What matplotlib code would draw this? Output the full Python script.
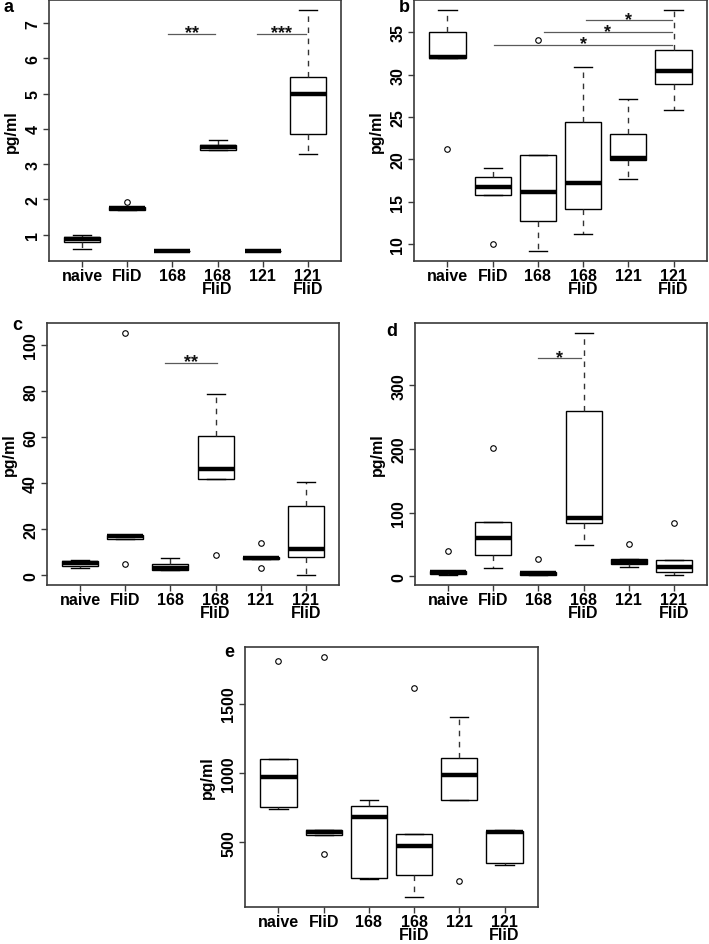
import matplotlib
matplotlib.use('Agg')
import matplotlib.pyplot as plt

plt.rcParams['font.family'] = ['Liberation Sans', 'DejaVu Sans']

categories = ['naive', 'FliD', '168', '168\nFliD', '121', '121\nFliD']

# ---- panel a ----
a_whislo = [0.59, 1.71, 0.53, 3.41, 0.53, 3.30]
a_q1 = [0.79, 1.71, 0.53, 3.41, 0.53, 3.86]
a_med = [0.88, 1.75, 0.53, 3.49, 0.53, 5.00]
a_q3 = [0.95, 1.80, 0.53, 3.55, 0.53, 5.48]
a_whishi = [1.00, 1.80, 0.53, 3.68, 0.53, 7.38]
a_fliers = [[], [1.92], [], [], [], []]
a_yticks = [1, 2, 3, 4, 5, 6, 7]
a_sig = [(2.90, 3.95, 6.69, '**'), (4.88, 5.96, 6.69, '***')]

# ---- panel b ----
b_whislo = [31.96, 15.73, 9.13, 11.22, 17.62, 25.80]
b_q1 = [31.96, 15.73, 12.69, 14.15, 19.91, 28.96]
b_med = [32.12, 16.71, 16.20, 17.19, 20.19, 30.42]
b_q3 = [35.00, 17.94, 20.55, 24.45, 22.95, 32.95]
b_whishi = [37.69, 18.97, 20.55, 30.89, 27.10, 37.69]
b_fliers = [[21.26], [10.0], [34.13], [], [], []]
b_yticks = [10, 15, 20, 25, 30, 35]
b_sig = [(4.06, 5.96, 36.42, '*'), (3.14, 5.96, 35.0, '*'), (2.04, 5.96, 33.5, '*')]

# ---- panel c ----
c_whislo = [3.2, 15.7, 2.3, 41.9, 7.0, 0.0]
c_q1 = [4.0, 15.7, 2.3, 41.9, 7.0, 8.0]
c_med = [5.2, 17.0, 3.2, 46.2, 7.4, 11.6]
c_q3 = [6.2, 17.6, 5.1, 60.2, 8.0, 30.2]
c_whishi = [6.6, 17.6, 7.7, 78.6, 8.0, 40.3]
c_fliers = [[], [105.2, 5.1], [], [8.6], [13.8, 3.3], []]
c_yticks = [0, 20, 40, 60, 80, 100]
c_sig = [(2.88, 4.03, 92.2, '**')]

# ---- panel d ----
d_whislo = [2.0, 13.0, 2.6, 49.0, 14.0, 1.6]
d_q1 = [4.0, 34.0, 2.6, 84.0, 20.0, 6.8]
d_med = [6.0, 59.5, 4.7, 92.0, 23.0, 15.3]
d_q3 = [8.0, 85.0, 6.8, 260.0, 27.4, 26.3]
d_whishi = [9.0, 85.0, 6.8, 383.0, 27.4, 26.3]
d_fliers = [[40.0], [202.0], [27.0], [], [51.0], [84.0]]
d_yticks = [0, 100, 200, 300]
d_sig = [(2.98, 3.94, 342.6, '*')]

# ---- panel e ----
e_whislo = [737, 555, 236, 102, 805, 332]
e_q1 = [757, 555, 243, 260, 805, 349]
e_med = [968, 574, 682, 476, 984, 574]
e_q3 = [1102, 589, 764, 562, 1109, 582]
e_whishi = [1102, 589, 805, 562, 1406, 589]
e_fliers = [[1807], [1838, 418], [], [1610], [222], []]
e_yticks = [500, 1000, 1500]
e_sig = []

W, H = 709, 945
fig = plt.figure(figsize=(W / 100, H / 100), dpi=100)

FRAME = '#3a3a3a'
FS = 11.5


def add_axes_px(left, top, right, bottom):
    return fig.add_axes([left / W, 1 - bottom / H, (right - left) / W, (bottom - top) / H])


def draw_panel(ax, whislo, q1, med, q3, whishi, fliers, yticks, sig):
    stats = []
    for i in range(len(categories)):
        stats.append(dict(whislo=whislo[i], q1=q1[i], med=med[i], q3=q3[i],
                          whishi=whishi[i], fliers=fliers[i]))
    pos = list(range(1, len(categories) + 1))
    ax.bxp(stats, positions=pos, widths=0.8, capwidths=0.4, showfliers=True,
           patch_artist=True,
           boxprops=dict(facecolor='white', edgecolor='black', linewidth=1.0),
           medianprops=dict(color='black', linewidth=3.2, solid_capstyle='butt'),
           whiskerprops=dict(color='#333333', linewidth=1.0, linestyle=(0, (4, 4))),
           capprops=dict(color='black', linewidth=1.0),
           flierprops=dict(marker='o', markerfacecolor='none', markeredgecolor='black',
                           markersize=4, markeredgewidth=0.8, linestyle='none'))
    allv = list(whislo) + list(whishi) + [v for f in fliers for v in f]
    lo, hi = min(allv), max(allv)
    pad = 0.04 * (hi - lo)
    ax.set_ylim(lo - pad, hi + pad)
    ax.set_xlim(0.26, 6.74)
    ax.set_xticks(pos)
    ax.set_xticklabels(categories, fontweight='bold', fontsize=FS, linespacing=0.9)
    ax.set_yticks(yticks)
    ax.set_yticklabels([str(t) for t in yticks], rotation=90, va='center',
                       fontweight='bold', fontsize=FS)
    ax.tick_params(axis='both', direction='out', length=4.3, width=1.0, color=FRAME)
    ax.tick_params(axis='x', pad=0.5)
    ax.tick_params(axis='y', pad=2)
    for s in ax.spines.values():
        s.set_color(FRAME)
        s.set_linewidth(1.2)
    ax.set_ylabel('pg/ml', fontweight='bold', fontsize=FS)
    ax.yaxis.set_label_coords(-30 / 292, 0.5)
    for x0, x1, y, lab in sig:
        ax.plot([x0, x1], [y, y], color='#5a5a5a', linewidth=0.9)
        ax.annotate(lab, xy=((x0 + x1) / 2, y), xytext=(0, -2.5), textcoords='offset points',
                    ha='center', va='baseline', fontsize=13, fontweight='bold',
                    color='#111111')


ax_a = add_axes_px(49, 1, 341, 262)
draw_panel(ax_a, a_whislo, a_q1, a_med, a_q3, a_whishi, a_fliers, a_yticks, a_sig)
ax_b = add_axes_px(414, 1, 707, 262)
draw_panel(ax_b, b_whislo, b_q1, b_med, b_q3, b_whishi, b_fliers, b_yticks, b_sig)
ax_c = add_axes_px(47, 324, 339, 586)
draw_panel(ax_c, c_whislo, c_q1, c_med, c_q3, c_whishi, c_fliers, c_yticks, c_sig)
ax_d = add_axes_px(415, 324, 707, 586)
draw_panel(ax_d, d_whislo, d_q1, d_med, d_q3, d_whishi, d_fliers, d_yticks, d_sig)
ax_e = add_axes_px(245, 648, 538, 908)
draw_panel(ax_e, e_whislo, e_q1, e_med, e_q3, e_whishi, e_fliers, e_yticks, e_sig)

letters = [('a', 8, 7), ('b', 404, 8), ('c', 17, 326), ('d', 392, 331), ('e', 229, 653)]
for lab, x, y in letters:
    fig.text(x / W, 1 - y / H, lab, ha='center', va='center', fontweight='bold', fontsize=13)

fig.savefig('out.png', dpi=100, facecolor='white')
